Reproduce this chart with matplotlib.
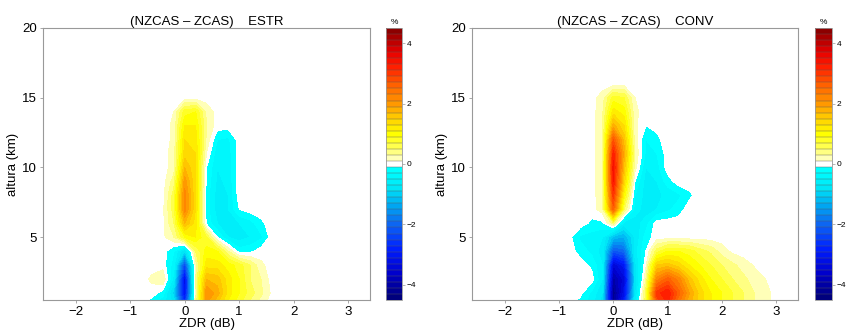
import numpy as np
import matplotlib
matplotlib.use("Agg")
import matplotlib.pyplot as plt
from matplotlib.colors import ListedColormap, BoundaryNorm

plt.rcParams['font.family'] = ['Liberation Sans', 'DejaVu Sans']

# ---------------- data ----------------
zdr_db = [-1.0, -0.8, -0.6, -0.4, -0.2, 0.0, 0.2, 0.4, 0.6, 0.8, 1.0,
          1.2, 1.4, 1.6, 1.8, 2.0, 2.2, 2.4, 2.6, 2.8, 3.0, 3.2]
altura_km = [0.5, 1, 2, 3, 4, 5, 6, 7, 8, 9, 10, 11, 12, 13, 14, 15, 16]

# difference (%) NZCAS - ZCAS, stratiform; rows = altura_km (bottom -> top)
estr_diff = [
    [0, 0, -0.15, -0.4, -0.8, -2.8, 0.3, 2.0, 1.6, 1.1, 0.8, 0.5, 0.25, 0, 0, 0, 0, 0, 0, 0, 0, 0],
    [0, 0, 0, -0.2, -1.0, -3.2, 0.2, 2.1, 1.8, 1.2, 0.9, 0.6, 0.35, 0.05, 0, 0, 0, 0, 0, 0, 0, 0],
    [0, 0, 0.15, 0.3, -0.6, -3.3, 0.3, 1.7, 1.6, 1.2, 0.9, 0.5, 0.3, 0, 0, 0, 0, 0, 0, 0, 0, 0],
    [0, 0, 0, 0, -0.4, -2.4, 0.2, 1.2, 1.2, 1.0, 0.8, 0.5, 0.15, 0, 0, 0, 0, 0, 0, 0, 0, 0],
    [0, 0, 0, 0, -0.3, -0.9, 0.5, 1.0, 0.9, 0.3, -0.2, -0.15, 0, 0, 0, 0, 0, 0, 0, 0, 0, 0],
    [0, 0, 0, 0.05, 0.3, 0.9, 1.1, 0.7, -0.1, -0.5, -0.6, -0.5, -0.35, 0, 0, 0, 0, 0, 0, 0, 0, 0],
    [0, 0, 0, 0.05, 0.5, 1.7, 1.2, -0.15, -0.5, -0.55, -0.5, -0.4, -0.15, 0, 0, 0, 0, 0, 0, 0, 0, 0],
    [0, 0, 0, 0.05, 0.6, 2.2, 1.3, -0.2, -0.6, -0.5, -0.1, 0, 0, 0, 0, 0, 0, 0, 0, 0, 0, 0],
    [0, 0, 0, 0.03, 0.6, 2.2, 1.3, -0.2, -0.6, -0.5, 0, 0, 0, 0, 0, 0, 0, 0, 0, 0, 0, 0],
    [0, 0, 0, 0, 0.4, 2.0, 1.3, -0.15, -0.55, -0.45, 0, 0, 0, 0, 0, 0, 0, 0, 0, 0, 0, 0],
    [0, 0, 0, 0, 0.2, 1.7, 1.3, -0.1, -0.5, -0.45, 0, 0, 0, 0, 0, 0, 0, 0, 0, 0, 0, 0],
    [0, 0, 0, 0, 0.2, 1.4, 1.3, 0.1, -0.45, -0.4, 0, 0, 0, 0, 0, 0, 0, 0, 0, 0, 0, 0],
    [0, 0, 0, 0, 0.15, 1.3, 1.2, 0.25, -0.3, -0.35, 0, 0, 0, 0, 0, 0, 0, 0, 0, 0, 0, 0],
    [0, 0, 0, 0, 0.15, 1.1, 1.1, 0.3, 0, 0, 0, 0, 0, 0, 0, 0, 0, 0, 0, 0, 0, 0],
    [0, 0, 0, 0, 0.1, 0.8, 0.9, 0.25, 0, 0, 0, 0, 0, 0, 0, 0, 0, 0, 0, 0, 0, 0],
    [0] * 22,
    [0] * 22,
]

# difference (%) NZCAS - ZCAS, convective
conv_diff = [
    [0, 0, -0.15, -0.4, -0.8, -4.2, -3.0, -0.6, 0.6, 2.8, 3.2, 2.4, 1.8, 1.4, 1.1, 0.9, 0.7, 0.5, 0.3, 0.2, 0, 0],
    [0, 0, -0.05, -0.35, -0.7, -4.3, -3.2, -0.8, 0.6, 3.0, 3.3, 2.6, 1.9, 1.4, 1.1, 0.9, 0.7, 0.5, 0.3, 0.2, 0, 0],
    [0, 0, 0, 0, -0.5, -4.0, -3.4, -0.9, 0.3, 2.2, 2.6, 2.2, 1.6, 1.2, 0.9, 0.7, 0.5, 0.35, 0.2, 0.1, 0, 0],
    [0, 0, 0, -0.15, -0.5, -3.5, -3.0, -0.8, 0.05, 1.5, 1.6, 1.4, 1.1, 0.9, 0.7, 0.5, 0.35, 0.2, 0.08, 0, 0, 0],
    [0, 0, -0.2, -0.35, -0.6, -2.2, -2.0, -0.6, -0.1, 0.6, 0.9, 0.9, 0.8, 0.6, 0.45, 0.2, 0.05, 0, 0, 0, 0, 0],
    [0, -0.05, -0.35, -0.4, -0.5, -1.2, -1.3, -0.7, -0.2, 0, 0, 0, 0, 0, 0, 0, 0, 0, 0, 0, 0, 0],
    [0, 0, 0, -0.15, -0.15, 0.4, -0.6, -0.6, -0.4, 0, 0, 0, 0, 0, 0, 0, 0, 0, 0, 0, 0, 0],
    [0, 0, 0, 0, 0.2, 2.6, 0.5, -0.4, -0.6, -0.5, -0.35, -0.2, 0, 0, 0, 0, 0, 0, 0, 0, 0, 0],
    [0, 0, 0, 0, 0.25, 3.0, 1.0, -0.3, -0.6, -0.55, -0.45, -0.35, -0.15, 0, 0, 0, 0, 0, 0, 0, 0, 0],
    [0, 0, 0, 0, 0.25, 3.3, 1.4, -0.1, -0.6, -0.5, -0.2, 0, 0, 0, 0, 0, 0, 0, 0, 0, 0, 0],
    [0, 0, 0, 0, 0.25, 3.4, 1.6, 0.2, -0.5, -0.4, 0, 0, 0, 0, 0, 0, 0, 0, 0, 0, 0, 0],
    [0, 0, 0, 0, 0.25, 3.2, 1.8, 0.3, -0.35, -0.3, 0, 0, 0, 0, 0, 0, 0, 0, 0, 0, 0, 0],
    [0, 0, 0, 0, 0.25, 2.7, 1.6, 0.2, -0.3, -0.15, 0, 0, 0, 0, 0, 0, 0, 0, 0, 0, 0, 0],
    [0, 0, 0, 0, 0.25, 1.8, 1.3, 0.15, -0.1, -0.05, 0, 0, 0, 0, 0, 0, 0, 0, 0, 0, 0, 0],
    [0, 0, 0, 0, 0.25, 1.2, 1.0, 0.15, 0, 0, 0, 0, 0, 0, 0, 0, 0, 0, 0, 0, 0, 0],
    [0, 0, 0, 0, 0.2, 0.8, 0.7, 0.1, 0, 0, 0, 0, 0, 0, 0, 0, 0, 0, 0, 0, 0, 0],
    [0] * 22,
]

panel_titles = ['(NZCAS \u2013 ZCAS)    ESTR', '(NZCAS \u2013 ZCAS)    CONV']
x_ticks = [-2, -1, 0, 1, 2, 3]
y_ticks = [5, 10, 15, 20]
cbar_ticks = [-4, -2, 0, 2, 4]

# ---------------- styling ----------------
levels = np.round(np.linspace(-4.5, 4.5, 46), 2)
anchor_v = [-4.5, -3.6, -2.8, -2.0, -1.4, -0.8, -0.2, 0.2, 0.6, 1.0, 1.5, 2.0, 2.6, 3.2, 3.7, 4.5]
anchor_c = [(0.0, 0.0, 0.45), (0.0, 0.0, 0.8), (0.0, 0.12, 1.0), (0.05, 0.4, 0.95),
            (0.0, 0.65, 0.95), (0.0, 0.9, 0.97), (0.0, 1.0, 1.0),
            (1.0, 1.0, 0.72), (1.0, 1.0, 0.3), (1.0, 1.0, 0.0), (1.0, 0.82, 0.0),
            (1.0, 0.6, 0.0), (1.0, 0.38, 0.0), (1.0, 0.12, 0.0), (0.9, 0.0, 0.0),
            (0.5, 0.0, 0.0)]
anchor_c = np.array(anchor_c)
centers = 0.5 * (levels[:-1] + levels[1:])
band_colors = []
for v in centers:
    if abs(v) < 0.05:
        band_colors.append((1.0, 1.0, 1.0))
    else:
        band_colors.append(tuple(np.interp(v, anchor_v, anchor_c[:, k]) for k in range(3)))
cmap = ListedColormap(band_colors)
norm = BoundaryNorm(levels, cmap.N)

W, H = 847, 332
fig = plt.figure(figsize=(W / 100, H / 100), dpi=100)
frame_col = '#999999'

ax_rects = [(43, 28, 327, 272), (472, 28, 326, 272)]
cax_rects = [(386, 28, 16, 272), (815, 28, 17, 272)]
fields = [estr_diff, conv_diff]

Xg, Yg = np.meshgrid(zdr_db, altura_km)
for i in range(2):
    x0, y0, w, h = ax_rects[i]
    ax = fig.add_axes([x0 / W, (H - y0 - h) / H, w / W, h / H])
    cf = ax.contourf(Xg, Yg, np.array(fields[i]), levels=levels, cmap=cmap, norm=norm)
    ax.set_xlim(-2.6, 3.4)
    ax.set_ylim(0.5, 20)
    ax.set_xticks(x_ticks)
    ax.set_yticks(y_ticks)
    ax.tick_params(labelsize=9.5, length=2.5, width=0.6, color=frame_col, pad=2)
    for s in ax.spines.values():
        s.set_color(frame_col)
        s.set_linewidth(0.8)
    ax.set_title(panel_titles[i], fontsize=9.5, pad=2)
    ax.set_xlabel('ZDR (dB)', fontsize=9.5, labelpad=0)
    ax.set_ylabel('altura (km)', fontsize=9.5, labelpad=2)

    cx0, cy0, cw, ch = cax_rects[i]
    cax = fig.add_axes([cx0 / W, (H - cy0 - ch) / H, cw / W, ch / H])
    cb = fig.colorbar(cf, cax=cax, ticks=cbar_ticks, drawedges=True)
    cb.minorticks_off()
    cb.dividers.set_color((0.35, 0.35, 0.35))
    cb.dividers.set_linewidth(0.3)
    cb.outline.set_edgecolor(frame_col)
    cb.outline.set_linewidth(0.6)
    cax.tick_params(labelsize=6, length=2, width=0.5, color=frame_col, pad=1.5)
    cax.set_title('%', fontsize=6, pad=3)

fig.savefig('out.png', dpi=100)
